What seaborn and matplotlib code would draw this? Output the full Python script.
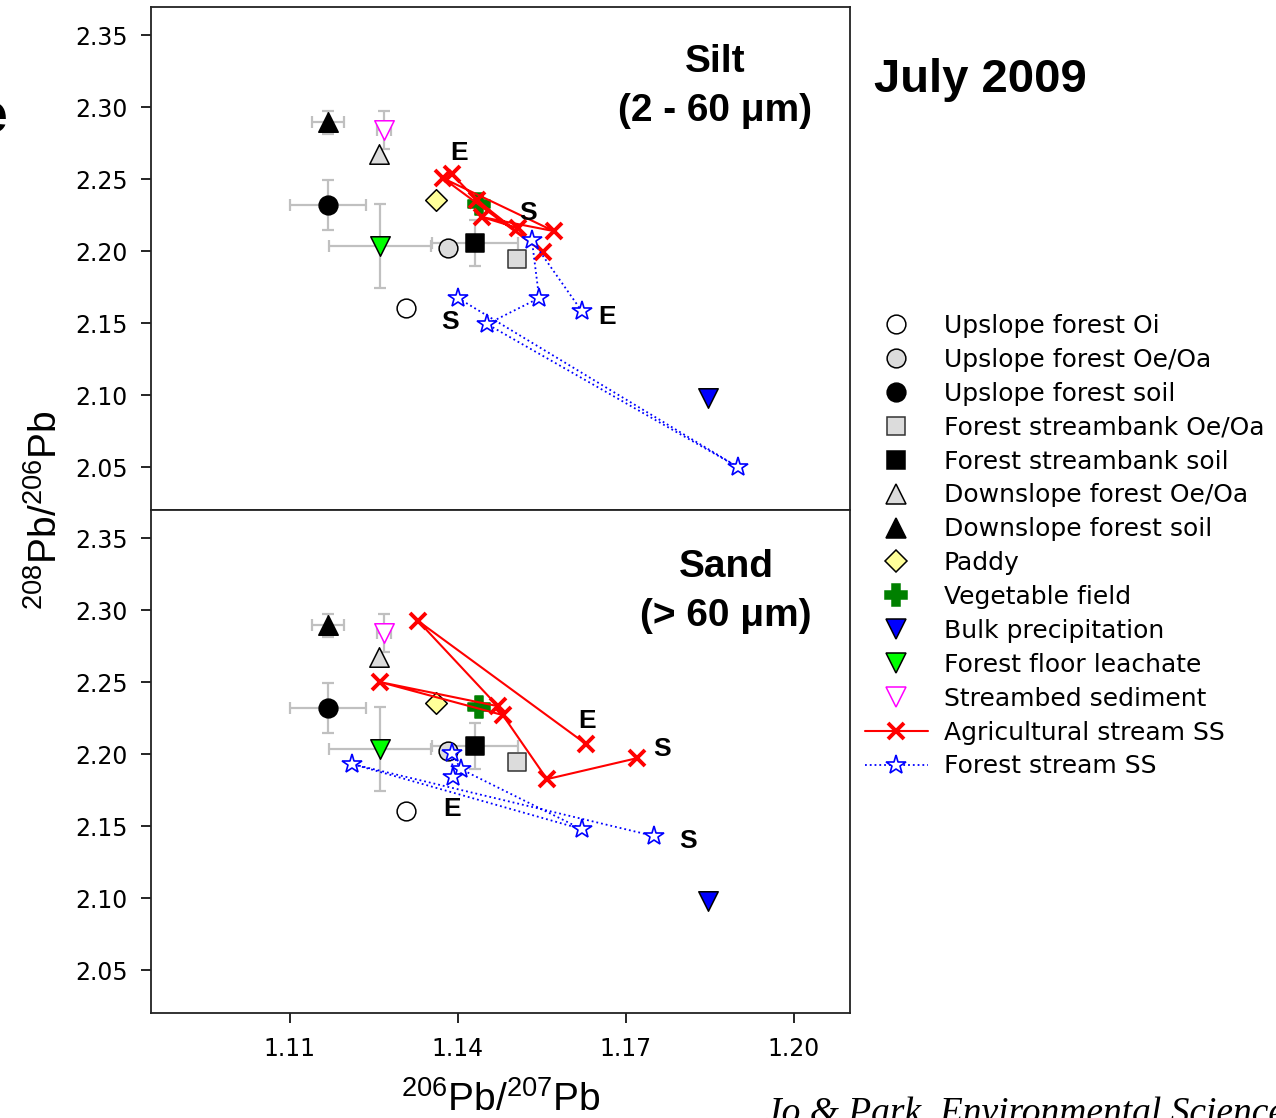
import matplotlib
matplotlib.use("Agg")
import matplotlib.pyplot as plt
from matplotlib.lines import Line2D
import seaborn as sns

# --- reference sources (same values drawn in both panels) ---
src_names = ["Upslope forest Oi", "Upslope forest Oe/Oa", "Upslope forest soil",
             "Forest streambank Oe/Oa", "Forest streambank soil",
             "Downslope forest Oe/Oa", "Downslope forest soil", "Paddy",
             "Vegetable field", "Bulk precipitation", "Forest floor leachate",
             "Streambed sediment"]
src_x = [1.1307, 1.1382, 1.1168, 1.1505, 1.1430, 1.1259, 1.1168, 1.1361,
         1.1438, 1.1846, 1.1261, 1.1268]
src_y = [2.1604, 2.2021, 2.2320, 2.1944, 2.2056, 2.2674, 2.2896, 2.2354,
         2.2326, 2.0979, 2.2035, 2.2840]
src_xerr = [0, 0, 0.0067, 0, 0.0077, 0, 0.0029, 0, 0, 0, 0.0091, 0.0012]
src_yerr = [0, 0, 0.0177, 0, 0.0160, 0, 0.0080, 0, 0, 0, 0.0290, 0.0130]

# --- suspended sediment series (first point = S, last point = E) ---
silt_ag_x = [1.1507, 1.1443, 1.1571, 1.1373, 1.1552, 1.1434, 1.1389]
silt_ag_y = [2.2160, 2.2236, 2.2139, 2.2507, 2.1993, 2.2354, 2.2535]
silt_fo_x = [1.1400, 1.1900, 1.1452, 1.1545, 1.1532, 1.1621]
silt_fo_y = [2.1674, 2.0500, 2.1493, 2.1674, 2.2076, 2.1583]
sand_ag_x = [1.1720, 1.1559, 1.1480, 1.1261, 1.1471, 1.1329, 1.1629]
sand_ag_y = [2.1972, 2.1826, 2.2271, 2.2500, 2.2333, 2.2924, 2.2069]
sand_fo_x = [1.1750, 1.1211, 1.1621, 1.1405, 1.1389, 1.1391]
sand_fo_y = [2.1431, 2.1931, 2.1479, 2.1896, 2.2007, 2.1840]

x_ticks = [1.11, 1.14, 1.17, 1.20]
y_ticks = [2.05, 2.10, 2.15, 2.20, 2.25, 2.30, 2.35]

# marker styles: marker, face, edge, size(pt)
src_style = {
    "Upslope forest Oi": ("o", "white", "black", 13.5),
    "Upslope forest Oe/Oa": ("o", "#dcdcdc", "black", 13.5),
    "Upslope forest soil": ("o", "black", "black", 13.5),
    "Forest streambank Oe/Oa": ("s", "#dcdcdc", "#333333", 12.5),
    "Forest streambank soil": ("s", "black", "black", 12.5),
    "Downslope forest Oe/Oa": ("^", "#dcdcdc", "black", 14),
    "Downslope forest soil": ("^", "black", "black", 14),
    "Paddy": ("D", "#ffff99", "black", 11),
    "Vegetable field": ("P", "#008000", "#008000", 15.5),
    "Bulk precipitation": ("v", "#0000ff", "black", 14),
    "Forest floor leachate": ("v", "#00ff00", "black", 14),
    "Streambed sediment": ("v", "white", "#ff00ff", 14),
}

sns.set_theme(style="ticks")
plt.rcParams["font.family"] = ["Liberation Sans", "DejaVu Sans"]
plt.rcParams["mathtext.fontset"] = "custom"
plt.rcParams["mathtext.rm"] = "Liberation Sans"
plt.rcParams["mathtext.it"] = "Liberation Sans:italic"
plt.rcParams["mathtext.bf"] = "Liberation Sans:bold"
plt.rcParams["text.color"] = "black"
plt.rcParams["axes.labelcolor"] = "black"

wide_font = ["DejaVu Sans"]

fig = plt.figure(figsize=(12.76, 11.18), dpi=100)
ax_top = fig.add_axes([0.11834, 0.54383, 0.54781, 0.44991])
ax_bot = fig.add_axes([0.11834, 0.09392, 0.54781, 0.44991])

ag_kw = dict(color="red", linestyle="-", linewidth=1.5, marker="x",
             markersize=11.5, markeredgewidth=2.8, markeredgecolor="red",
             zorder=5)
fo_kw = dict(color="blue", linestyle=":", linewidth=1.3, marker="*",
             markersize=14.5, markerfacecolor="white", markeredgecolor="blue",
             markeredgewidth=1.2, zorder=6)


def draw_panel(ax, ag_x, ag_y, fo_x, fo_y, lab_off):
    # error bars of the sources
    for x, y, xe, ye in zip(src_x, src_y, src_xerr, src_yerr):
        if xe or ye:
            ax.errorbar(x, y, xerr=xe, yerr=ye, fmt="none", ecolor="#c0c0c0",
                        elinewidth=1.6, capsize=4, capthick=1.6, zorder=2)
    # source markers
    for name, x, y in zip(src_names, src_x, src_y):
        m, fc, ec, ms = src_style[name]
        sns.scatterplot(x=[x], y=[y], ax=ax, marker=m, s=ms ** 2,
                        facecolor=fc, edgecolor=ec, linewidth=1.1, zorder=3)
    # suspended sediment paths
    sns.lineplot(x=ag_x, y=ag_y, ax=ax, sort=False, estimator=None, **ag_kw)
    sns.lineplot(x=fo_x, y=fo_y, ax=ax, sort=False, estimator=None, **fo_kw)

    # S / E labels next to first and last samples
    pts = [(ag_x[0], ag_y[0], "S"), (ag_x[-1], ag_y[-1], "E"),
           (fo_x[0], fo_y[0], "S"), (fo_x[-1], fo_y[-1], "E")]
    for (x, y, t), off in zip(pts, lab_off):
        ax.annotate(t, (x, y), xytext=off, textcoords="offset pixels",
                    ha="center", va="center", fontsize=19, fontweight="bold",
                    color="black", zorder=7)

    ax.set_xlim(1.0852, 1.21)
    ax.set_ylim(2.0202, 2.3695)
    ax.set_xticks(x_ticks)
    ax.set_xticklabels([f"{v:.2f}" for v in x_ticks], family=wide_font)
    ax.set_yticks(y_ticks)
    ax.set_yticklabels([f"{v:.2f}" for v in y_ticks], family=wide_font)
    ax.set_xlabel("")
    ax.set_ylabel("")
    ax.tick_params(axis="both", direction="out", length=7, width=1.2,
                   labelsize=17, pad=10, colors="black")
    for sp in ax.spines.values():
        sp.set_linewidth(1.3)
        sp.set_color("#222222")


draw_panel(ax_top, silt_ag_x, silt_ag_y, silt_fo_x, silt_fo_y,
           [(10, 15), (7, 21), (-8, -24), (25, -6)])
draw_panel(ax_bot, sand_ag_x, sand_ag_y, sand_fo_x, sand_fo_y,
           [(25, 9), (1, 23), (34, -5), (-1, -32)])
ax_top.tick_params(axis="x", labelbottom=False)

ax_top.text(0.9456, 0.926, "Silt\n(2 - 60 \u03bcm)", transform=ax_top.transAxes,
            ha="right", va="top", multialignment="center", fontsize=28,
            fontweight="bold", linespacing=1.45)
ax_bot.text(0.9456, 0.922, "Sand\n(> 60 \u03bcm)", transform=ax_bot.transAxes,
            ha="right", va="top", multialignment="center", fontsize=28,
            fontweight="bold", linespacing=1.45)

fig.text(0.685, 0.9177, "July 2009", ha="left", va="baseline", fontsize=34,
         fontweight="bold")
fig.text(0.036, 0.5438, "$^{208}$Pb/$^{206}$Pb", rotation=90, ha="center",
         va="center", fontsize=28)
fig.text(0.3923, 0.016, "$^{206}$Pb/$^{207}$Pb", ha="center", va="center",
         fontsize=28)
fig.text(0.006, 0.894, "e", ha="right", va="center", fontsize=40,
         fontweight="bold")
fig.text(0.5995, -0.0045, "Jo & Park, Environmental Science", ha="left",
         va="baseline", fontsize=27, style="italic",
         family=["Liberation Serif", "DejaVu Serif"])

# legend
handles = []
for name in src_names:
    m, fc, ec, ms = src_style[name]
    handles.append(Line2D([], [], linestyle="none", marker=m, markersize=ms,
                          markerfacecolor=fc, markeredgecolor=ec,
                          markeredgewidth=1.1))
handles.append(Line2D([], [], **{k: v for k, v in ag_kw.items() if k != "zorder"}))
handles.append(Line2D([], [], **{k: v for k, v in fo_kw.items() if k != "zorder"}))
labels = src_names + ["Agricultural stream SS", "Forest stream SS"]
fig.legend(handles, labels, loc="upper left", bbox_to_anchor=(0.678, 0.7191),
           frameon=False, prop={"family": wide_font, "size": 18},
           handlelength=2.5, handletextpad=0.64, labelspacing=0.395,
           borderpad=0, borderaxespad=0)

fig.savefig("out.png", dpi=100)
